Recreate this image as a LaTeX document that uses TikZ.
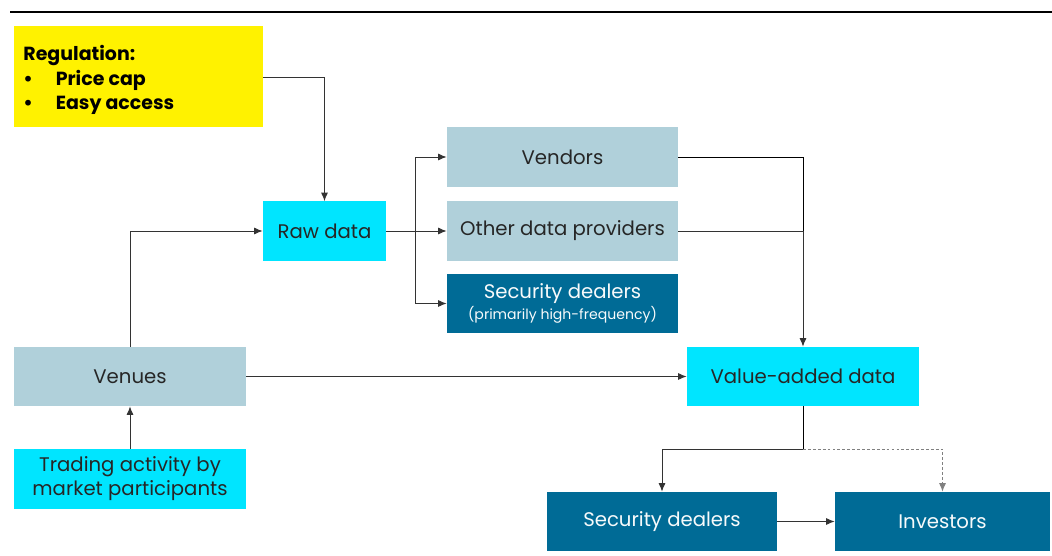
\documentclass[tikz,border=0pt]{standalone}
\usepackage{fontspec}
\setmainfont{Poppins}
\usetikzlibrary{arrows.meta}
\definecolor{cyanbox}{HTML}{00E5FF}
\definecolor{greybox}{HTML}{B0D0DA}
\definecolor{tealbox}{HTML}{006B96}
\definecolor{lineclr}{HTML}{333333}
\tikzset{
  box/.style={inner sep=0pt,minimum height=1.475cm,align=center,font=\fontsize{14}{17}\selectfont,text=black!85},
  rawbox/.style={box,fill=cyanbox},
  greyb/.style={box,fill=greybox},
  darkb/.style={box,fill=tealbox,text=white!90!greybox},
  link/.style={-{Latex[length=6pt,width=5pt]},draw=lineclr}
}
\begin{document}
\begin{tikzpicture}[x={(0.025cm,0)},y={(0,-0.025cm)},line width=0.6pt]
\useasboundingbox (0,0) rectangle (1052,556);
\draw[line width=2pt] (10,12)--(1052,12);
% boxes
\node[fill=yellow,minimum width=6.225cm,minimum height=2.525cm,inner sep=0pt] (reg) at (138.5,76.5) {};
\node[anchor=west,align=left,font=\bfseries\fontsize{13.5}{17.5}\selectfont,inner sep=0pt] (regtext) at (23,80)
  {Regulation:\\\makebox[23pt][l]{\textbullet}Price cap\\\makebox[23pt][l]{\textbullet}Easy access};
\node[rawbox,minimum width=3.075cm] (raw) at (324.5,231) {Raw data};
\node[greyb,minimum width=5.775cm] (vend) at (562.5,157) {Vendors};
\node[greyb,minimum width=5.775cm] (other) at (562.5,231) {Other data providers};
\node[darkb,minimum width=5.775cm] (secHF) at (562.5,303.5) {Security dealers\\[-2pt]{\fontsize{10}{12}\selectfont(primarily high-frequency)}};
\node[greyb,minimum width=5.8cm] (venues) at (130,376.5) {Venues};
\node[rawbox,minimum width=5.8cm] (trade) at (130,479) {Trading activity by\\market participants};
\node[rawbox,minimum width=5.8cm] (vad) at (803,376.5) {Value-added data};
\node[darkb,minimum width=5.75cm] (secdl) at (662,521.5) {Security dealers};
\node[darkb,minimum width=5.375cm] (inv) at (942.5,521.5) {Investors};
% connectors
\coordinate (split) at (415,231);
\coordinate (merge) at (803,231);
\coordinate (fork) at (803,449);
\draw[link] (reg.east|-0,77) -| (raw.north);
\draw[link] (venues.north) |- (raw.west);
\draw[link] (trade.north) -- (venues.south);
\draw[link] (raw.east) -- (other.west);
\draw[link] (split) |- (vend.west);
\draw[link] (split) |- (secHF.west);
\draw (vend.east) -| (merge);
\draw[link] (other.east) -| (vad.north);
\draw[link] (venues.east) -- (vad.west);
\draw (vad.south) -- (fork);
\draw[link] (fork) -| (secdl.north);
\draw[link,dash pattern=on 2pt off 1.5pt,draw=gray] (fork) -| (inv.north);
\draw[link] (secdl.east) -- (inv.west);
\end{tikzpicture}
\end{document}
